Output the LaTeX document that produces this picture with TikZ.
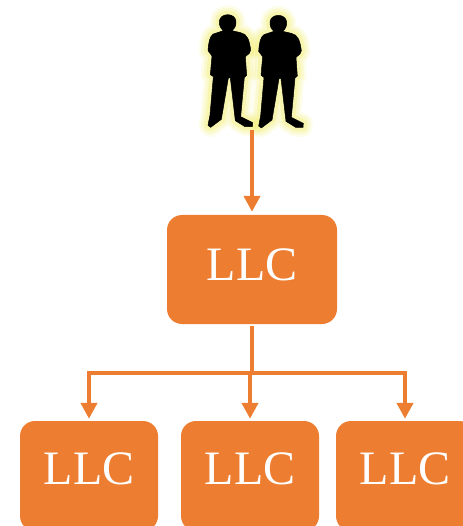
\documentclass[tikz,border=0pt]{standalone}
\usepackage{fontspec}
\setmainfont{Liberation Serif}
\usetikzlibrary{arrows.meta}
\definecolor{llcorange}{HTML}{ED7D31}
\definecolor{glowyellow}{HTML}{F0EB60}
\newcommand{\personpath}{
  (100,92) .. controls (82,78) and (82,45) .. (113,44)
  .. controls (144,45) and (144,78) .. (126,92)
  -- (152,98) .. controls (172,102) and (178,120) .. (182,150)
  -- (178,160) -- (166,170) -- (170,226) -- (163,232)
  -- (152,350) -- (188,368) -- (187,380) -- (165,380) -- (136,362)
  -- (121,234) -- (115,234) -- (94,358) -- (62,382) -- (54,376)
  -- (60,345) -- (70,230) -- (61,224) -- (66,168) -- (54,152)
  .. controls (56,125) and (60,108) .. (70,102) -- cycle}
\tikzset{
  x=1pt,y=-1pt,
  llcbox/.style={draw=none,fill=llcorange,rounded corners=15pt,text=white,
    inner sep=0pt,align=center,font=\fontsize{48}{50}\selectfont},
  topbox/.style={llcbox,text width=170pt,text height=65pt,text depth=44pt},
  lowbox/.style={llcbox,text width=138pt,text height=63pt,text depth=47pt},
  link/.style={draw=llcorange,line width=4pt},
  linkarrow/.style={link,-{Triangle[length=16pt,width=16pt]}},
  glowa/.style={draw=glowyellow,fill=glowyellow,opacity=.12,line width=19pt,line join=round},
  glowb/.style={draw=glowyellow,fill=glowyellow,opacity=.2,line width=14pt,line join=round},
  glowc/.style={draw=glowyellow,fill=glowyellow,opacity=.28,line width=8pt,line join=round},
  figure/.style={fill=black,draw=black,line width=.5pt,line join=round},
}
\begin{document}
\begin{tikzpicture}
\useasboundingbox (0,0) rectangle (462,526);
\node[topbox] (top) at (252,269.5) {LLC};
\node[lowbox] (left) at (89,476) {LLC};
\node[lowbox] (mid) at (250,476) {LLC};
\node[lowbox] (right) at (405,476) {LLC};
\coordinate (people) at (252,130);
\coordinate (busL) at (89,372.5);
\coordinate (busM) at (252,372.5);
\coordinate (busC) at (250,372.5);
\coordinate (busR) at (405,372.5);
% silhouettes
\foreach \glow in {glowa,glowb,glowc}{
  \begin{scope}[shift={(190,0)},x=1pt/3,y=-1pt/3]
    \path[\glow] \personpath;
    \path[\glow,shift={(152,2)}] \personpath;
  \end{scope}
}
\draw[linkarrow,shorten >=3pt] (people) -- (top.north);
\begin{scope}[shift={(190,0)},x=1pt/3,y=-1pt/3]
  \path[figure] \personpath;
  \path[figure,shift={(152,2)}] \personpath;
\end{scope}
% connectors
\draw[link,shorten <=2pt] (top.south) -- (busM);
\draw[link] ([xshift=-2pt]busL) -- ([xshift=2pt]busR);
\draw[linkarrow,shorten >=2pt] (busL) -- (left.north);
\draw[linkarrow,shorten >=2pt] (busC) -- (mid.north);
\draw[linkarrow,shorten >=2pt] (busR) -- (right.north);
\end{tikzpicture}
\end{document}
